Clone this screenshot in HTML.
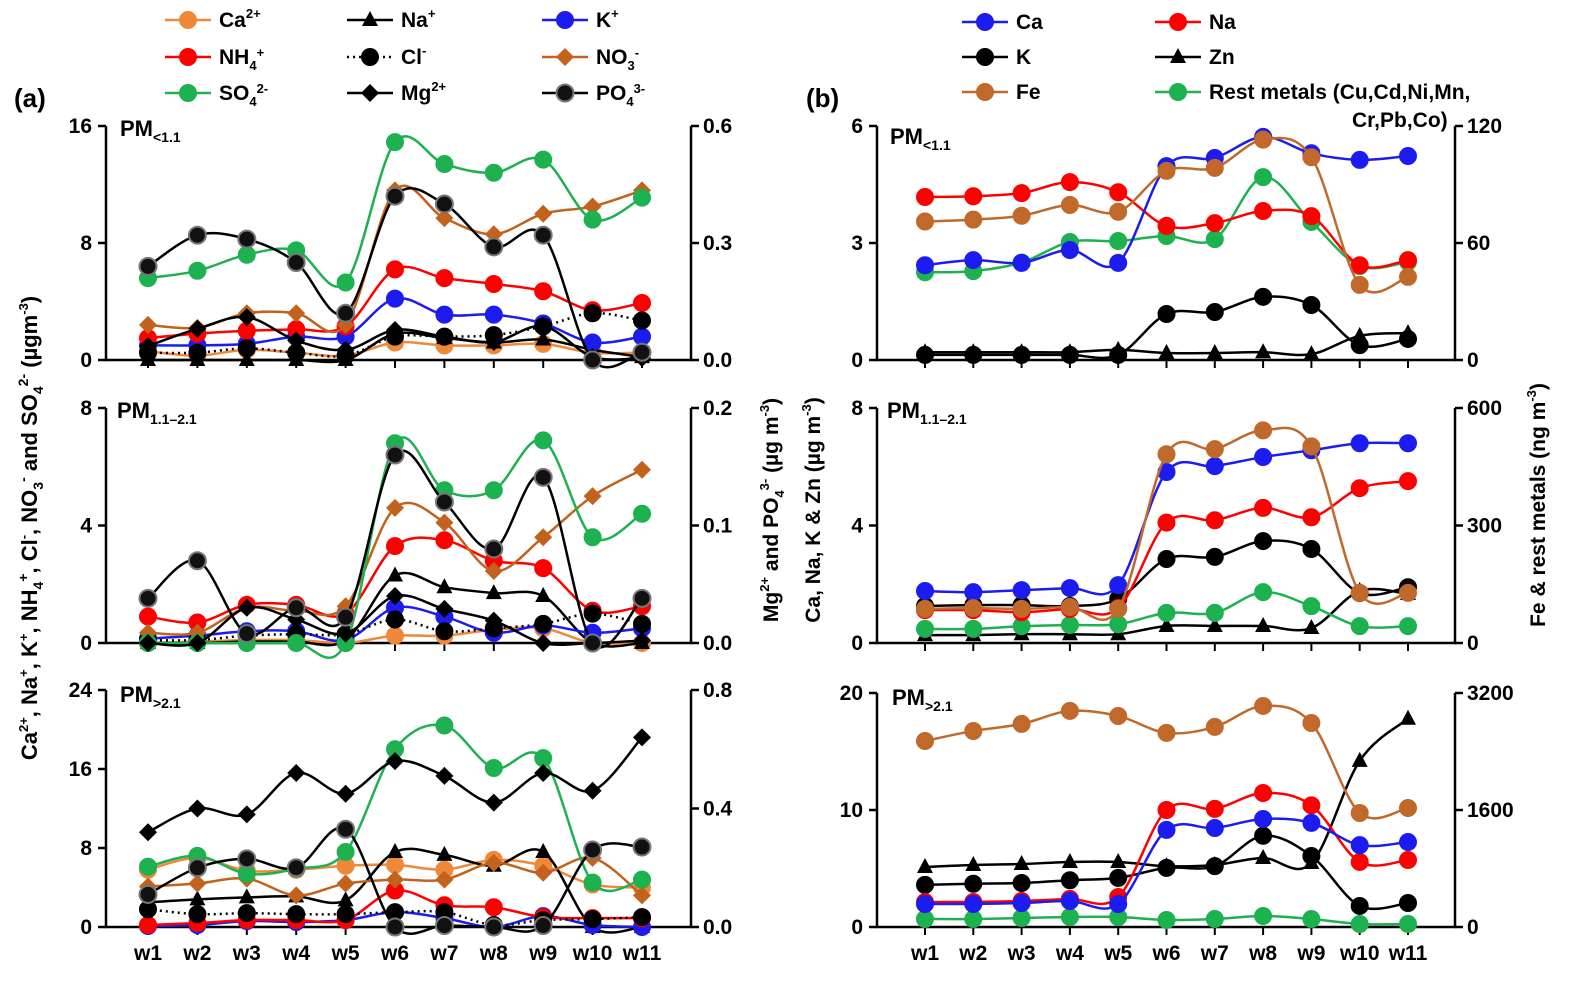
<!DOCTYPE html>
<html><head><meta charset="utf-8"><style>
body{margin:0;background:#fff}
svg{display:block;font-family:"Liberation Sans",Arial,sans-serif;font-weight:bold}
</style></head><body>
<svg id="c" width="1579" height="982" viewBox="0 0 1579 982" xmlns="http://www.w3.org/2000/svg">
<g id="root"></g>
</svg>
<script>
const weeks=["w1","w2","w3","w4","w5","w6","w7","w8","w9","w10","w11"];
// panel a1 (PM<1.1) ions, ug/m3 left; Mg, PO4 right
const a1Ca=[0.6,0.3,0.7,0.5,0.3,1.2,1.0,1.0,1.1,0.5,0.5];
const a1Na=[0,0,0,0,0,1.8,1.5,1.2,1.4,0.7,0.2];
const a1K=[1.0,1.0,1.1,1.6,1.6,4.2,3.1,3.1,2.5,1.2,1.6];
const a1NH4=[1.5,1.8,2.0,2.1,2.3,6.2,5.6,5.2,4.7,3.4,3.9];
const a1Cl=[0.5,0.5,0.8,0.5,0.3,1.6,1.6,1.7,2.3,3.2,2.7];
const a1NO3=[2.4,2.2,3.2,3.2,2.4,11.6,9.7,8.6,10.0,10.5,11.6];
const a1SO4=[5.6,6.1,7.2,7.5,5.3,14.9,13.4,12.8,13.7,9.6,11.1];
const a1Mg=[0.036,0.08,0.11,0.05,0.026,0.077,0.06,0.046,0.087,0.008,0.005];
const a1PO4=[0.24,0.32,0.31,0.25,0.12,0.42,0.40,0.29,0.32,0.0,0.02];
// panel a2 (PM1.1-2.1)
const a2Ca=[0,0.05,0.1,0.1,0,0.25,0.25,0.45,0.5,0,0];
const a2Na=[0,0,0.05,0.05,0.1,2.3,1.9,1.7,1.6,0,0];
const a2K=[0.15,0.25,0.4,0.4,0.1,1.2,0.9,0.35,0.6,0.35,0.5];
const a2NH4=[0.9,0.7,1.3,1.3,1.0,3.3,3.5,2.8,2.55,1.1,1.25];
const a2Cl=[0.1,0.1,0.25,0.3,0.3,0.8,0.4,0.5,0.65,1.0,0.65];
const a2NO3=[0.35,0.35,1.2,1.1,1.25,4.6,4.1,2.45,3.6,5.0,5.9];
const a2SO4=[0,0,0,0,0,6.8,5.2,5.2,6.9,3.6,4.4];
const a2Mg=[0,0,0.03,0.02,0.008,0.04,0.029,0.019,0,0,0.002];
const a2PO4=[0.038,0.07,0.008,0.03,0.022,0.16,0.12,0.08,0.141,0,0.038];
// panel a3 (PM>2.1)
const a3Ca=[5.8,7.0,5.7,5.8,6.2,6.3,5.8,6.8,6.2,4.3,4.0];
const a3Na=[2.5,2.8,3.0,3.1,2.7,7.6,7.3,6.2,7.6,0,0];
const a3K=[0.1,0.2,0.6,0.5,0.7,1.5,0.9,0,1.1,0.2,0];
const a3NH4=[0.2,0.4,0.7,0.7,0.7,3.7,2.2,2.0,1.0,0.9,0.9];
const a3Cl=[1.8,1.3,1.4,1.3,1.3,1.5,1.5,0.2,0.7,0.8,1.0];
const a3NO3=[4.1,4.4,4.9,3.2,4.4,4.8,4.8,6.5,5.5,7.0,3.2];
const a3SO4=[6.1,7.2,5.4,5.9,7.6,18.0,20.4,16.1,17.1,4.5,4.8];
const a3Mg=[0.32,0.40,0.38,0.52,0.45,0.56,0.51,0.42,0.52,0.46,0.64];
const a3PO4=[0.11,0.2,0.23,0.2,0.33,0,0.005,0,0.005,0.26,0.27];
// panel b1 (PM<1.1) metals: Ca,Na,K,Zn ug/m3 left; Fe, rest ng/m3 right
const b1Ca=[2.43,2.56,2.49,2.82,2.49,4.97,5.18,5.72,5.3,5.13,5.23];
const b1Na=[4.18,4.2,4.28,4.56,4.3,3.44,3.51,3.82,3.69,2.43,2.56];
const b1K=[0.13,0.13,0.13,0.13,0.13,1.18,1.23,1.62,1.41,0.38,0.54];
const b1Zn=[0.2,0.2,0.2,0.2,0.26,0.18,0.18,0.2,0.15,0.62,0.69];
const b1Fe=[71,72,74,79.5,76,97,98.5,113,104,38.5,42.6];
const b1Rest=[45,45.6,50,60.5,61,63.6,62,93.8,70.8,48.2,50.3];
// panel b2 (PM1.1-2.1)
const b2Ca=[1.77,1.73,1.8,1.87,1.97,5.82,6.02,6.33,6.56,6.8,6.8];
const b2Na=[1.12,1.12,1.05,1.16,1.19,4.1,4.18,4.6,4.28,5.27,5.51];
const b2K=[1.26,1.29,1.29,1.26,1.5,2.86,2.93,3.47,3.2,1.7,1.9];
const b2Zn=[0.27,0.27,0.3,0.3,0.3,0.58,0.58,0.58,0.51,1.77,1.67];
const b2Fe=[87,89,87,92,87,482,495,543,502,128,128];
const b2Rest=[36,36,43,46,48,77,77,130,94,43,43];
// panel b3 (PM>2.1)
const b3Ca=[1.97,1.97,2.05,2.22,1.97,8.3,8.46,9.23,8.9,7.0,7.26];
const b3Na=[2.14,2.14,2.22,2.4,2.56,10.0,10.1,11.45,10.4,5.56,5.73];
const b3K=[3.6,3.7,3.76,4.0,4.2,5.05,5.2,7.8,6.07,1.8,2.05];
const b3Zn=[5.13,5.3,5.38,5.56,5.56,5.2,5.3,5.9,5.47,14.2,17.8];
const b3Fe=[2544,2681,2777,2955,2886,2654,2736,3023,2790,1559,1628];
const b3Rest=[109,109,123,137,137,96,109,150,109,41,41];
// axis ticks
const a1LTicks=[0,8,16], a1RTicks=["0.0","0.3","0.6"];
const a2LTicks=[0,4,8], a2RTicks=["0.0","0.1","0.2"];
const a3LTicks=[0,8,16,24], a3RTicks=["0.0","0.4","0.8"];
const b1LTicks=[0,3,6], b1RTicks=[0,60,120];
const b2LTicks=[0,4,8], b2RTicks=[0,300,600];
const b3LTicks=[0,10,20], b3RTicks=[0,1600,3200];

const NS="http://www.w3.org/2000/svg";
const root=document.getElementById("root");
function el(tag,attrs,parent){const e=document.createElementNS(NS,tag);for(const k in attrs)e.setAttribute(k,attrs[k]);(parent||root).appendChild(e);return e;}

const C={ca:"#F0883A",red:"#FF0000",blue:"#1C1CF0",green:"#1DB150",brown:"#C2621C",fe:"#C0692A",black:"#000"};

function marker(g,type,x,y,color,stroke){
  let m;
  if(type==="circle"){m=el("circle",{cx:x,cy:y,r:8.5,fill:color,stroke:stroke||color,"stroke-width":stroke?2:1},g);}
  else if(type==="tri"){m=el("polygon",{points:`${x},${y-9} ${x-8},${y+6} ${x+8},${y+6}`,fill:color},g);}
  else {m=el("polygon",{points:`${x},${y-9} ${x+9},${y} ${x},${y+9} ${x-9},${y}`,fill:color},g);}
  
  
}
function smoothPath(pts){
  let d=`M${pts[0][0]},${pts[0][1]}`;
  for(let i=0;i<pts.length-1;i++){
    const p0=pts[Math.max(0,i-1)],p1=pts[i],p2=pts[i+1],p3=pts[Math.min(pts.length-1,i+2)];
    const c1=[p1[0]+(p2[0]-p0[0])/6,p1[1]+(p2[1]-p0[1])/6];
    const c2=[p2[0]-(p3[0]-p1[0])/6,p2[1]-(p3[1]-p1[1])/6];
    d+=` C${c1[0]},${c1[1]} ${c2[0]},${c2[1]} ${p2[0]},${p2[1]}`;
  }
  return d;
}
function makePanel(P){
  const g=el("g",{});
  
  
  const xS=i=>P.xa+(P.xb-P.xa)*i/(weeks.length-1);
  const yL=v=>P.bot-(P.bot-P.top)*v/P.lmax;
  const yR=v=>P.bot-(P.bot-P.top)*v/P.rmax;
  const ax=el("path",{d:`M${P.x0},${P.top} V${P.bot} H${P.x1} V${P.top}`,fill:"none",stroke:"#000","stroke-width":2.5},g);
  
  
  P.lt.forEach(t=>{const y=yL(+t);el("line",{x1:P.x0-8,x2:P.x0,y1:y,y2:y,stroke:"#000","stroke-width":2.5},g);
    const tx=el("text",{x:P.x0-14,y:y+7,"text-anchor":"end","font-size":21},g);tx.textContent=t;
    
    });
  P.rt.forEach(t=>{const y=yR(+t);el("line",{x1:P.x1,x2:P.x1+8,y1:y,y2:y,stroke:"#000","stroke-width":2.5},g);
    const tx=el("text",{x:P.x1+12,y:y+7,"text-anchor":"start","font-size":21},g);tx.textContent=t;
    
    });
  for(let i=0;i<weeks.length;i++){const x=xS(i);el("line",{x1:x,x2:x,y1:P.bot,y2:P.bot+8,stroke:"#000","stroke-width":2},g);}
  if(P.xl){weeks.forEach((w,i)=>{const tx=el("text",{x:xS(i),y:P.bot+33,"text-anchor":"middle","font-size":21},g);tx.textContent=w;
    
    });}
  const pm=el("text",{x:P.pmx,y:P.pmy,"font-size":22},g);
  
  
  pm.innerHTML=`PM<tspan font-size="14" dy="6">${P.sub}</tspan>`;
  P.series.forEach(s=>{
    const sy=s.right?yR:yL;
    const pts=s.data.map((v,i)=>[xS(i),sy(v)]);
    const sg=el("g",{},g);
    
    
    const attrs={d:smoothPath(pts),fill:"none",stroke:s.line||s.color,"stroke-width":2.5};
    if(s.dash)attrs["stroke-dasharray"]="2,4";
    const ln=el("path",attrs,sg);
    
    
    pts.forEach(p=>marker(sg,s.m,p[0],p[1],s.color,s.stroke));
  });
}
function ionSeries(Ca,Na,K,NH4,Cl,NO3,SO4,Mg,PO4){
  return [
    {name:"ca-series",data:Ca,color:C.ca,m:"circle"},
    {name:"na-series",data:Na,color:C.black,m:"tri"},
    {name:"k-series",data:K,color:C.blue,m:"circle"},
    {name:"nh4-series",data:NH4,color:C.red,m:"circle"},
    {name:"cl-series",data:Cl,color:C.black,m:"circle",dash:true},
    {name:"no3-series",data:NO3,color:C.brown,m:"diamond"},
    {name:"so4-series",data:SO4,color:C.green,m:"circle"},
    {name:"mg-series",data:Mg,color:C.black,m:"diamond",right:true},
    {name:"po4-series",data:PO4,color:"#111",m:"circle",stroke:"#777",line:"#000",right:true}
  ];
}
function metalSeries(Ca,Na,K,Zn,Fe,Rest){
  return [
    {name:"zn-series",data:Zn,color:C.black,m:"tri"},
    {name:"k-metal-series",data:K,color:C.black,m:"circle"},
    {name:"rest-metals-series",data:Rest,color:C.green,m:"circle",right:true},
    {name:"na-metal-series",data:Na,color:C.red,m:"circle"},
    {name:"ca-metal-series",data:Ca,color:C.blue,m:"circle"},
    {name:"fe-series",data:Fe,color:C.fe,m:"circle",right:true}
  ];
}
const LA={x0:106,x1:691,xa:148,xb:642};
const RB={x0:877,x1:1455,xa:925,xb:1408};
makePanel({...LA,name:"panel-a1",top:126,bot:360,lmax:16,rmax:0.6,lt:a1LTicks,rt:a1RTicks,pmx:120,pmy:136,sub:"&lt;1.1",series:ionSeries(a1Ca,a1Na,a1K,a1NH4,a1Cl,a1NO3,a1SO4,a1Mg,a1PO4)});
makePanel({...LA,name:"panel-a2",top:408,bot:643,lmax:8,rmax:0.2,lt:a2LTicks,rt:a2RTicks,pmx:117,pmy:418,sub:"1.1–2.1",series:ionSeries(a2Ca,a2Na,a2K,a2NH4,a2Cl,a2NO3,a2SO4,a2Mg,a2PO4)});
makePanel({...LA,name:"panel-a3",top:690,bot:927,lmax:24,rmax:0.8,lt:a3LTicks,rt:a3RTicks,pmx:120,pmy:702,sub:"&gt;2.1",xl:true,series:ionSeries(a3Ca,a3Na,a3K,a3NH4,a3Cl,a3NO3,a3SO4,a3Mg,a3PO4)});
makePanel({...RB,name:"panel-b1",top:126,bot:360,lmax:6,rmax:120,lt:b1LTicks,rt:b1RTicks,pmx:890,pmy:144,sub:"&lt;1.1",series:metalSeries(b1Ca,b1Na,b1K,b1Zn,b1Fe,b1Rest)});
makePanel({...RB,name:"panel-b2",top:408,bot:643,lmax:8,rmax:600,lt:b2LTicks,rt:b2RTicks,pmx:887,pmy:418,sub:"1.1–2.1",series:metalSeries(b2Ca,b2Na,b2K,b2Zn,b2Fe,b2Rest)});
makePanel({...RB,name:"panel-b3",top:693,bot:927,lmax:20,rmax:3200,lt:b3LTicks,rt:b3RTicks,pmx:892,pmy:705,sub:"&gt;2.1",xl:true,series:metalSeries(b3Ca,b3Na,b3K,b3Zn,b3Fe,b3Rest)});

function legend(x,y,color,m,label,opts){
  const g=el("g",{});
  
  
  const a={x1:x,x2:x+46,y1:y,y2:y,stroke:color,"stroke-width":2.5};
  if(opts&&opts.dash)a["stroke-dasharray"]="2,4";
  el("line",a,g);
  marker(g,m,x+23,y,opts&&opts.fill||color,opts&&opts.stroke);
  const t=el("text",{x:x+54,y:y+7,"font-size":21},g);
  t.innerHTML=label;
}
const sup=s=>`<tspan font-size="13" dy="-9">${s}</tspan>`;
const sub=s=>`<tspan font-size="13" dy="6">${s}</tspan>`;
legend(165,20,C.ca,"circle","Ca"+sup("2+"));
legend(347,20,C.black,"tri","Na"+sup("+"));
legend(542,20,C.blue,"circle","K"+sup("+"));
legend(165,57,C.red,"circle","NH"+sub("4")+`<tspan font-size="13" dy="-13">+</tspan>`);
legend(347,57,C.black,"circle","Cl"+sup("-"),{dash:true});
legend(542,57,C.brown,"diamond","NO"+sub("3")+`<tspan font-size="13" dy="-13">-</tspan>`);
legend(165,93,C.green,"circle","SO"+sub("4")+`<tspan font-size="13" dy="-13">2-</tspan>`);
legend(347,93,C.black,"diamond","Mg"+sup("2+"));
legend(542,93,C.black,"circle","PO"+sub("4")+`<tspan font-size="13" dy="-13">3-</tspan>`,{fill:"#111",stroke:"#777"});
legend(962,22,C.blue,"circle","Ca");
legend(1155,22,C.red,"circle","Na");
legend(962,57,C.black,"circle","K");
legend(1155,57,C.black,"tri","Zn");
legend(962,92,C.fe,"circle","Fe");
legend(1155,92,C.green,"circle","Rest metals (Cu,Cd,Ni,Mn,");
const cont=el("text",{x:1352,y:127,"font-size":21});cont.textContent="Cr,Pb,Co)";



const la=el("text",{x:14,y:107,"font-size":26});la.textContent="(a)";


const lb=el("text",{x:806,y:107,"font-size":26});lb.textContent="(b)";



function vtitle(x,y,html,name,fs){
  const t=el("text",{x:0,y:0,"font-size":fs||20,"text-anchor":"middle",transform:`translate(${x},${y}) rotate(-90)`});
  t.innerHTML=html;
  
  
}
vtitle(37,528,"Ca"+sup("2+")+`<tspan dy="9">, Na</tspan>`+sup("+")+`<tspan dy="9">, K</tspan>`+sup("+")+`<tspan dy="9">, NH</tspan>`+`<tspan font-size="14" dy="6">4</tspan><tspan font-size="14" dy="-15">+</tspan><tspan dy="9">, Cl</tspan>`+sup("-")+`<tspan dy="9">, NO</tspan><tspan font-size="14" dy="6">3</tspan><tspan font-size="14" dy="-15">-</tspan><tspan dy="9"> and SO</tspan><tspan font-size="14" dy="6">4</tspan><tspan font-size="14" dy="-15">2-</tspan><tspan dy="9"> (µgm</tspan>`+sup("-3")+`<tspan dy="9">)</tspan>`,"left-y-axis-title",22);
vtitle(778,510,"Mg"+sup("2+")+`<tspan dy="9"> and PO</tspan><tspan font-size="13" dy="6">4</tspan><tspan font-size="13" dy="-15">3-</tspan><tspan dy="9"> (µg m</tspan>`+sup("-3")+`<tspan dy="9">)</tspan>`,"mg-po4-axis-title",21);
vtitle(820,510,`Ca, Na, K &amp; Zn (µg m`+sup("-3")+`<tspan dy="9">)</tspan>`,"metals-left-axis-title",21);
vtitle(1545,505,`Fe &amp; rest metals (ng m`+sup("-3")+`<tspan dy="9">)</tspan>`,"metals-right-axis-title",21);
</script>
</body></html>
